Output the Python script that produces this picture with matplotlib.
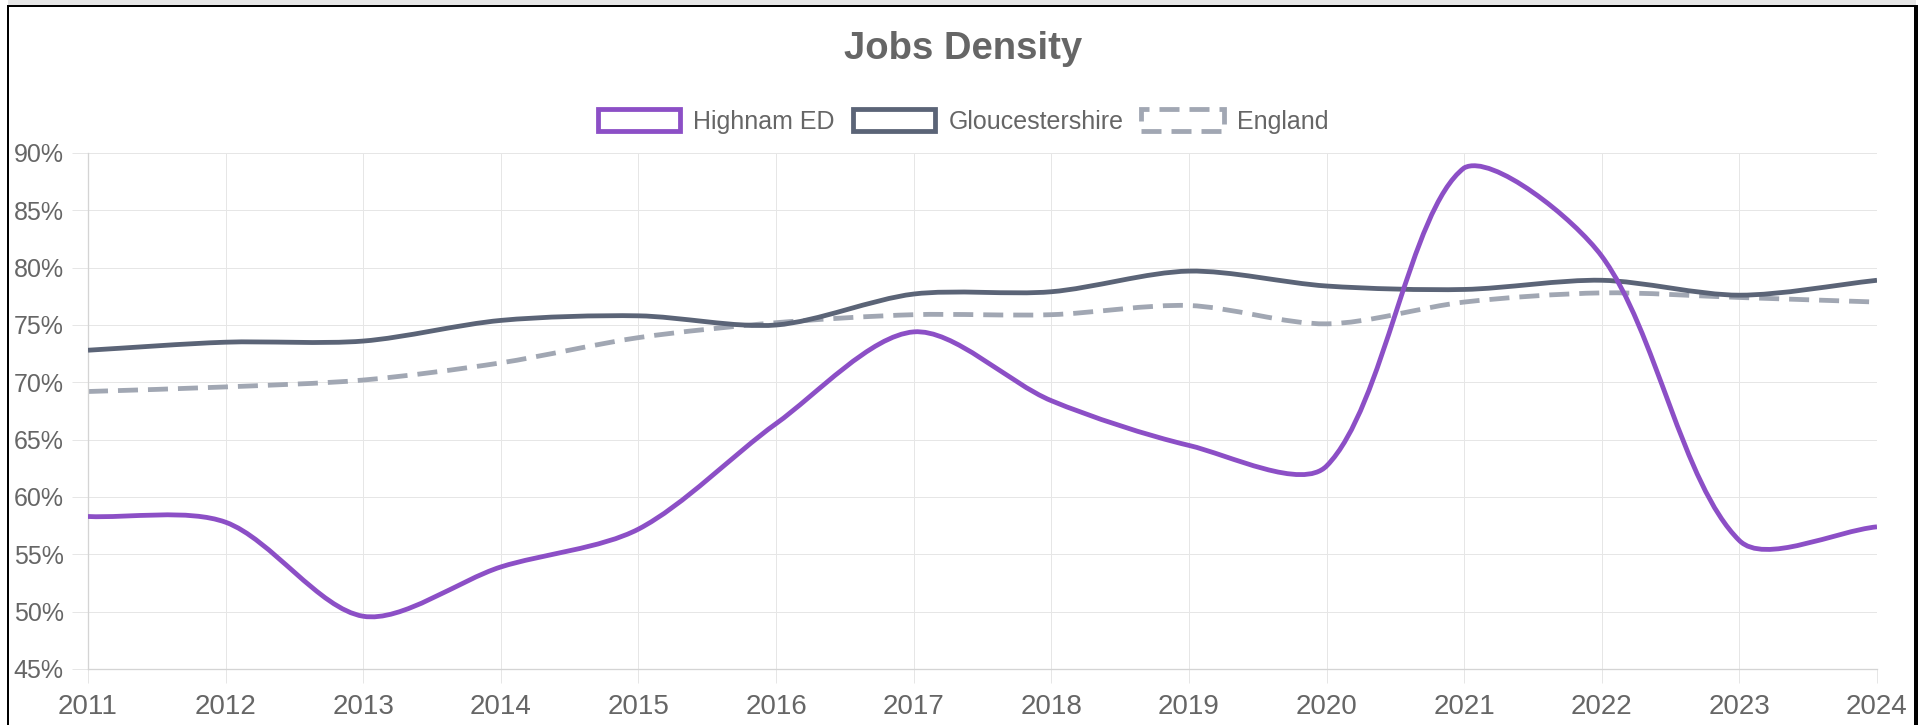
import numpy as np
import matplotlib
matplotlib.use("Agg")
import matplotlib.pyplot as plt
from matplotlib.path import Path
from matplotlib.patches import PathPatch, Patch, Rectangle

plt.rcParams["font.family"] = ["Liberation Sans", "DejaVu Sans"]
plt.rcParams["lines.scale_dashes"] = False

# Data
years = list(range(2011, 2025))
highnam = [58.3, 57.8, 49.6, 53.9, 57.2, 66.4, 74.4, 68.4, 64.5, 62.7, 88.7, 81.0, 56.2, 57.4]
glos = [72.8, 73.5, 73.6, 75.4, 75.8, 75.0, 77.7, 77.9, 79.7, 78.4, 78.1, 78.9, 77.6, 78.9]
england = [69.2, 69.6, 70.2, 71.7, 73.9, 75.2, 75.9, 75.9, 76.7, 75.1, 77.0, 77.8, 77.4, 77.0]

series_names = ["Highnam ED", "Gloucestershire", "England"]
colors = ["#8c4fc6", "#5b6477", "#a1a7b3"]

W, H = 1928, 725
DPI = 100
PX = 72 / DPI  # points per pixel
dash = (0, (20 * PX, 10 * PX))
LW = 4.8 * PX

fig = plt.figure(figsize=(W / DPI, H / DPI), dpi=DPI)
fig.patch.set_facecolor("white")

# axes placed to match the chart area (pixels)
left, right, top, bottom = 88, 1877, 153, 669
ax = fig.add_axes([left / W, 1 - bottom / H, (right - left) / W, (bottom - top) / H])
ax.set_xlim(2011, 2024)
ax.set_ylim(45, 90)
ax.set_xticks(years)
ax.set_xticklabels([str(y) for y in years])
ax.set_yticks(range(45, 91, 5))
ax.set_yticklabels([f"{v}%" for v in range(45, 91, 5)])

ax.grid(True, color="#e6e6e6", lw=1 * PX, zorder=0)
ax.set_axisbelow(True)
for s in ["top", "right"]:
    ax.spines[s].set_visible(False)
for s in ["left", "bottom"]:
    ax.spines[s].set_color("#d4d4d4")
    ax.spines[s].set_linewidth(1.3 * PX)
ax.tick_params(axis="x", length=14 * PX, width=1 * PX, color="#e6e6e6",
               labelsize=20, labelcolor="#666666", pad=8)
ax.tick_params(axis="y", length=16 * PX, width=1 * PX, color="#e6e6e6",
               labelsize=18, labelcolor="#666666", pad=6)


def spline_path(xs, ys, tension=0.3):
    # Chart.js style bezier spline, control points computed in pixel space
    pts = ax.transData.transform(np.column_stack([xs, ys]))
    n = len(pts)
    y_top = ax.transData.transform((xs[0], 90))[1]
    y_bot = ax.transData.transform((xs[0], 45))[1]
    cps = []
    for i in range(n):
        cur = pts[i]
        prev = pts[i - 1] if i > 0 else cur
        nxt = pts[i + 1] if i < n - 1 else cur
        d01 = np.hypot(*(cur - prev))
        d12 = np.hypot(*(nxt - cur))
        tot = d01 + d12
        s01 = d01 / tot if tot else 0
        s12 = d12 / tot if tot else 0
        cp_prev = cur - tension * s01 * (nxt - prev)
        cp_next = cur + tension * s12 * (nxt - prev)
        cp_prev[1] = np.clip(cp_prev[1], y_bot, y_top)
        cp_next[1] = np.clip(cp_next[1], y_bot, y_top)
        cps.append((cp_prev, cp_next))
    verts = [pts[0]]
    codes = [Path.MOVETO]
    for i in range(1, n):
        verts += [cps[i - 1][1], cps[i][0], pts[i]]
        codes += [Path.CURVE4] * 3
    verts = ax.transData.inverted().transform(np.array(verts))
    return Path(verts, codes)


all_series = [highnam, glos, england]
styles = ["solid", "solid", dash]
zorders = [4, 3, 2]
for vals, c, ls, z in zip(all_series, colors, styles, zorders):
    p = spline_path(np.array(years, float), np.array(vals, float))
    ax.add_patch(PathPatch(p, fill=False, edgecolor=c, lw=LW,
                           linestyle=ls, zorder=z, capstyle="butt", joinstyle="round"))

# title and legend
fig.text(0.4995, 1 - 59 / H, "Jobs Density", ha="center", va="baseline",
         fontsize=27.5, fontweight="bold", color="#666666")

handles = [Patch(facecolor="white", edgecolor=c, linewidth=LW, linestyle=ls)
           for c, ls in zip(colors, styles)]
leg = fig.legend(handles, series_names, loc="center", bbox_to_anchor=(0.4995, 1 - 121.5 / H),
                 ncol=3, frameon=False, fontsize=18, handlelength=3.3, handleheight=0.92,
                 handletextpad=0.52, columnspacing=0.72, borderpad=0)
for t in leg.get_texts():
    t.set_color("#666666")

# frame around the picture
fig.add_artist(Rectangle((8 / W, 1 - 5 / H), (1916 - 8) / W, 5 / H,
                         transform=fig.transFigure, color="#e6e6e6", lw=0))
fig.add_artist(Rectangle((7 / W, 0), 2 / W, 1 - 5 / H,
                         transform=fig.transFigure, color="black", lw=0))
fig.add_artist(Rectangle((7 / W, 1 - 6.5 / H), (1918 - 7) / W, 1.5 / H,
                         transform=fig.transFigure, color="black", lw=0))
fig.add_artist(Rectangle((1914 / W, 0), 4 / W, 1 - 5 / H,
                         transform=fig.transFigure, color="black", lw=0))

fig.savefig("out.png", dpi=DPI)
